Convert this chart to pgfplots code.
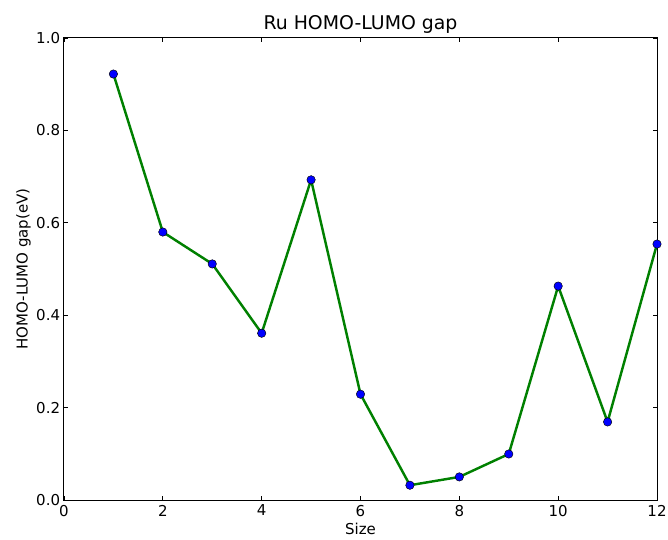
\documentclass[border=0pt]{standalone}
\usepackage{fontspec}
\setmainfont{DejaVu Sans}
\usepackage{pgfplots}
\pgfplotsset{compat=1.18}
\definecolor{mplblue}{rgb}{0,0,1}
\definecolor{mplgreen}{rgb}{0,0.5,0}
\begin{document}
\begin{tikzpicture}
\begin{axis}[
  scale only axis,
  width=533.7pt, height=415.8pt,
  xmin=0, xmax=12, ymin=0, ymax=1,
  xtick={0,2,...,12}, ytick={0,0.2,...,1.0},
  yticklabel style={/pgf/number format/fixed,/pgf/number format/fixed zerofill,/pgf/number format/precision=1},
  /pgf/number format/assume math mode=true,
  tick align=inside, major tick length=3.6pt,
  tick style={black, line width=0.8pt},
  axis line style={black, line width=0.9pt},
  ticklabel style={font=\fontsize{13.5}{16}\selectfont},
  xticklabel style={yshift=-1pt},
  title={Ru HOMO-LUMO gap},
  title style={font=\fontsize{17}{20}\selectfont, yshift=-5pt},
  xlabel={Size}, ylabel={HOMO-LUMO gap(eV)},
  label style={font=\fontsize{13.5}{16}\selectfont},
  xlabel style={yshift=0.5pt},
  ylabel style={yshift=-2pt},
  clip=false,
]
\addplot[mplgreen, line width=2.2pt, mark=*, mark size=3.8pt,
  mark options={fill=mplblue, draw=black, line width=0.4pt}] coordinates {
(1,0.922) (2,0.580) (3,0.511) (4,0.361) (5,0.693) (6,0.229)
(7,0.032) (8,0.050) (9,0.0996) (10,0.463) (11,0.169) (12,0.554)
};
\end{axis}
\pgfresetboundingbox
\path (-57.6pt,-35.1pt) rectangle (543.6pt,450pt);
\end{tikzpicture}
\end{document}
